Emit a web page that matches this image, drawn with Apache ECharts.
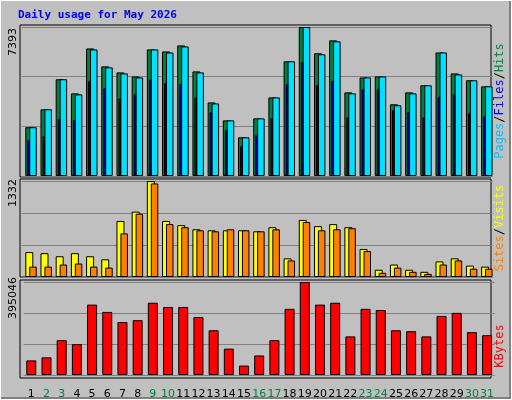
<!DOCTYPE html>
<html><head><meta charset="utf-8">
<script src="https://cdn.jsdelivr.net/npm/echarts@6/dist/echarts.min.js"></script>
<style>html,body{margin:0;padding:0;background:#c0c0c0}#c{width:512px;height:400px}</style>
</head><body><div id="c"></div>
<script>
const days = ['1','2','3','4','5','6','7','8','9','10','11','12','13','14','15','16','17','18','19','20','21','22','23','24','25','26','27','28','29','30','31'];
const weekend = ['2','3','9','10','16','17','23','24','30','31'];
const hits = [2420,3310,4800,4100,6330,5440,5140,4940,6280,6180,6480,5190,3650,2760,1920,2860,3900,5690,7393,6090,6730,4150,4890,4940,3560,4150,4500,6130,5090,4750,4450];
const files = [2420,3310,4800,4050,6280,5390,5090,4890,6280,6130,6430,5140,3600,2760,1920,2860,3900,5690,7393,6040,6680,4100,4890,4940,3510,4100,4500,6130,5040,4750,4450];
const pages = [1790,1970,2820,2770,4700,4350,3850,4050,4790,4600,4550,3900,3160,2270,1470,2020,2860,4550,5640,4500,4700,2900,4300,4300,3260,3160,2910,3900,4050,3110,2960];
const visits = [346,331,288,331,288,245,778,907,1332,778,720,662,648,648,648,634,691,259,792,706,734,691,389,101,173,101,72,216,259,158,144];
const sites = [144,144,173,187,144,130,605,878,1298,734,691,648,634,662,648,634,662,230,763,648,662,677,360,58,130,72,43,173,230,115,115];
const kbytes = [62000,75000,148000,131000,299000,268000,225000,233000,307000,289000,289000,246000,190000,112000,40000,83000,148000,281000,395046,299000,307000,164000,281000,276000,190000,186000,164000,251000,264000,182000,169000];
const maxHits = 7393, maxVisits = 1332, maxKB = 395046;

const chart = echarts.init(document.getElementById('c'));
const panels = [{top:27,h:149},{top:181,h:96},{top:282,h:94}];
const defs = [
 {p:0,dx:1.7,w:8,data:hits,color:'#008040',max:maxHits},
 {p:0,dx:5.4,w:7.5,data:files,color:'#00e0ff',max:maxHits},
 {p:0,dx:1.0,w:2.5,data:pages,color:'#0000ff',max:maxHits},
 {p:1,dx:1.7,w:8,data:visits,color:'#ffff00',max:maxVisits},
 {p:1,dx:5.4,w:7.5,data:sites,color:'#ff8000',max:maxVisits},
 {p:2,dx:3.7,w:10,data:kbytes,color:'#ff0000',max:maxKB}
];
const grid=[],xAxis=[],yAxis=[],series=[];
defs.forEach((d,i)=>{
  const pn=panels[d.p];
  grid.push({left:20+d.dx,right:21-d.dx,top:pn.top,height:pn.h});
  const isGridShown = (i===0||i===3||i===5);
  xAxis.push({type:'category',gridIndex:i,data:days,
    axisLine:{show:false},axisTick:{show:false},
    axisLabel:{show:i===5,interval:0,margin:14,fontFamily:'DejaVu Sans',fontSize:11,
      color:(v)=>weekend.includes(v)?'#008040':'#000'}});
  yAxis.push({type:'value',gridIndex:i,min:0,max:d.max,interval:d.max/3,
    axisLabel:{show:false},axisLine:{show:false},axisTick:{show:false},
    splitLine:{show:isGridShown,lineStyle:{color:'#808080',width:1}}});
  series.push({type:'bar',xAxisIndex:i,yAxisIndex:i,data:d.data,barWidth:d.w,
    itemStyle:{color:d.color,borderColor:'#000',borderWidth:1},silent:true,z:2+i});
});
const mono='DejaVu Sans Mono';
function vlabel(x,y,rich,parts){
  return {type:'text',x:x,y:y,rotation:Math.PI/2,
    style:{text:parts,rich:rich,font:'11px '+mono,textAlign:'center',textVerticalAlign:'middle'}};
}
const f='12px '+mono;
const rich={
 c:{fill:'#00c0ff',font:f},k:{fill:'#000',font:f},
 b:{fill:'#0000ff',font:f},g:{fill:'#008040',font:f},
 o:{fill:'#ff8000',font:f},y:{fill:'#ffff00',font:f},
 r:{fill:'#ff0000',font:f}
};
const graphic=[
 {type:'rect',shape:{x:0,y:0,width:511,height:399},style:{fill:'none',stroke:'#ffffff',lineWidth:2},z:-1},
 {type:'polyline',shape:{points:[[510,1],[510,398],[1,398]]},style:{stroke:'#808080',lineWidth:2,fill:null}},
 {type:'text',x:18,y:15,style:{text:'Daily usage for May 2026',font:'bold 11px '+mono,fill:'#0000ff',textVerticalAlign:'middle'}},
 {type:'rect',shape:{x:20,y:25,width:471,height:152},style:{fill:'none',stroke:'#000',lineWidth:1}},
 {type:'rect',shape:{x:20,y:179,width:471,height:98},style:{fill:'none',stroke:'#000',lineWidth:1}},
 {type:'rect',shape:{x:20,y:280,width:471,height:98},style:{fill:'none',stroke:'#000',lineWidth:1}},
 {type:'text',x:13,y:42,rotation:Math.PI/2,style:{text:'7393',font:'11px DejaVu Sans',fill:'#000',textAlign:'center',textVerticalAlign:'middle'}},
 {type:'text',x:13,y:193,rotation:Math.PI/2,style:{text:'1332',font:'11px DejaVu Sans',fill:'#000',textAlign:'center',textVerticalAlign:'middle'}},
 {type:'text',x:13,y:298,rotation:Math.PI/2,style:{text:'395046',font:'11px DejaVu Sans',fill:'#000',textAlign:'center',textVerticalAlign:'middle'}},
 vlabel(500,101,rich,'{c|Pages}{k|/}{b|Files}{k|/}{g|Hits}'),
 vlabel(500,228,rich,'{o|Sites}{k|/}{y|Visits}'),
 vlabel(500,346,rich,'{r|KBytes}')
];
chart.setOption({animation:false,backgroundColor:'#c0c0c0',grid,xAxis,yAxis,series,graphic});
</script></body></html>
